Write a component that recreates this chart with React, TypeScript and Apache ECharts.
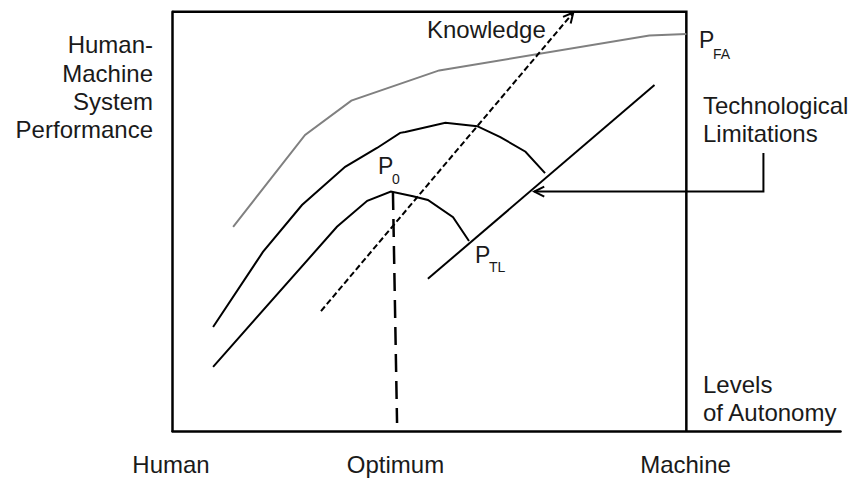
import React, { useEffect, useRef } from "react";
import * as echarts from "echarts";

// Coordinates: x = level of autonomy (0 = Human, 100 = Machine), y = performance (0..100)
const grayCurve: number[][] = [
  [11.8, 48.7], [25.8, 70.6], [34.8, 78.8], [51.9, 86.0], [92.8, 94.3], [100, 94.7],
];
const upperCurve: number[][] = [
  [7.9, 24.8], [17.6, 42.7], [25.2, 53.9], [33.6, 63.0], [39.8, 67.5], [44.3, 71.1],
  [45.3, 71.3], [53.1, 73.5], [59.3, 72.7], [63.8, 70.1], [68.7, 66.6], [72.5, 61.5],
];
const lowerCurve: number[][] = [
  [7.9, 15.3], [32.0, 48.7], [37.9, 54.9], [42.5, 57.1], [46.8, 56.0], [49.7, 55.1],
  [54.6, 51.0], [57.7, 45.3],
];
const techLimitLine: number[][] = [[49.7, 36.3], [93.8, 82.5]];
const knowledgeArrow: number[][] = [[28.9, 28.6], [78.0, 99.8]];
const optimumLine: number[][] = [[42.9, 57.0], [43.7, 1.9]];
const techArrow: number[][] = [[115.0, 66.3], [115.0, 57.1], [70.4, 57.1]];
const boxBorder: number[][] = [[0, 100], [100, 100], [100, 0]];
const arrowHeads: number[][] = [
  [28.9, 28.6, 78.0, 99.8],
  [115.0, 57.1, 70.4, 57.1],
];

const yTitle = ["Human-", "Machine", "System", "Performance"];
const xLabels = ["Human", "Optimum", "Machine"];

const FONT = '"Liberation Sans", Arial, Helvetica, sans-serif';
const TXT = "#1a1a1a";

export default function App() {
  const ref = useRef<HTMLDivElement>(null);
  useEffect(() => {
    if (!ref.current) return;
    const chart = echarts.init(ref.current, undefined, { renderer: "svg" });
    const lineS = (data: number[][], color: string, width: number, type: any = "solid", z = 2) => ({
      type: "line",
      data,
      symbol: "none",
      clip: false,
      silent: true,
      z,
      lineStyle: { color, width, type, cap: "butt", join: "miter" },
    });
    const text = (t: string, x: number, y: number, size: number, align = "left", lh?: number) => ({
      type: "text",
      x,
      y,
      silent: true,
      style: {
        text: t,
        fontSize: size,
        fontFamily: FONT,
        fill: TXT,
        align,
        verticalAlign: "middle",
        lineHeight: lh ?? size,
      },
    });
    chart.setOption({
      animation: false,
      backgroundColor: "#ffffff",
      grid: { left: 172.5, top: 11.7, width: 668, height: 419.3, containLabel: false },
      xAxis: {
        type: "value",
        min: 0,
        max: 130,
        axisLine: { show: true, lineStyle: { color: "#000", width: 2.5 } },
        axisTick: { show: false },
        axisLabel: { show: false },
        splitLine: { show: false },
      },
      yAxis: {
        type: "value",
        min: 0,
        max: 100,
        axisLine: { show: true, lineStyle: { color: "#000", width: 2.5 } },
        axisTick: { show: false },
        axisLabel: { show: false },
        splitLine: { show: false },
      },
      series: [
        lineS(boxBorder, "#000", 2.5),
        lineS(grayCurve, "#808080", 2),
        lineS(upperCurve, "#000", 2),
        lineS(lowerCurve, "#000", 2),
        lineS(techLimitLine, "#000", 2),
        lineS(knowledgeArrow, "#000", 2, [6, 3]),
        lineS(optimumLine, "#000", 2.5, [18, 9]),
        lineS(techArrow, "#000", 2),
        {
          type: "custom",
          data: arrowHeads,
          silent: true,
          z: 3,
          renderItem: (params: any, api: any) => {
            const p1 = api.coord([api.value(0), api.value(1)]);
            const p2 = api.coord([api.value(2), api.value(3)]);
            const dx = p2[0] - p1[0];
            const dy = p2[1] - p1[1];
            const d = Math.hypot(dx, dy) || 1;
            const ux = dx / d;
            const uy = dy / d;
            const L = 10;
            const W = 5;
            const bx = p2[0] - L * ux;
            const by = p2[1] - L * uy;
            return {
              type: "polyline",
              shape: {
                points: [
                  [bx - W * uy, by + W * ux],
                  [p2[0], p2[1]],
                  [bx + W * uy, by - W * ux],
                ],
              },
              style: { stroke: "#000", lineWidth: 2, fill: null },
            };
          },
        },
      ],
      graphic: [
        text(yTitle.join("\n"), 153, 87.3, 24, "right", 28.4),
        text("Knowledge", 427, 29.2, 24),
        text("Technological\nLimitations", 703, 119.7, 24, "left", 28),
        text("Levels\nof Autonomy", 703, 398.7, 24, "left", 28),
        text(xLabels[0], 171, 464.4, 24, "center"),
        text(xLabels[1], 395.5, 464.4, 24, "center"),
        text(xLabels[2], 685.5, 464.4, 24, "center"),
        text("P", 699, 40.4, 23),
        text("FA", 713, 54, 14),
        text("P", 378, 166.4, 23),
        text("0", 392, 178.5, 14),
        text("P", 475, 255.4, 23),
        text("TL", 489, 267, 14),
      ],
    });
    return () => chart.dispose();
  }, []);
  return (
    <div
      ref={ref}
      style={{ position: "absolute", left: 0, top: 0, width: 852, height: 478 }}
    />
  );
}
